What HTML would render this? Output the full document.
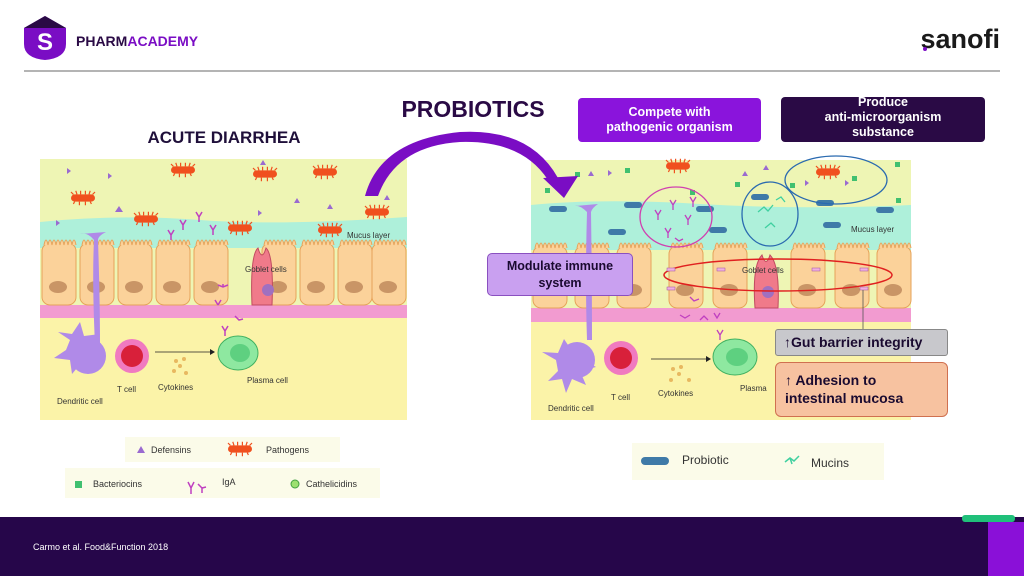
<!DOCTYPE html>
<html><head><meta charset="utf-8"><style>
body{margin:0;width:1024px;height:576px;overflow:hidden;background:#fff;font-family:"Liberation Sans",sans-serif;position:relative}
.a{position:absolute}
</style></head><body>
<svg class="a" style="left:0;top:0" width="1024" height="576" viewBox="0 0 1024 576">
<defs>
<g id="cell"><rect x="0" y="0" width="34" height="62" rx="8" fill="#fbd29a" stroke="#e6a35a" stroke-width="1"/><path d="M2 2 q2 -10 4 0 q2 -10 4 0 q2 -10 4 0 q2 -10 4 0 q2 -10 4 0 q2 -10 4 0 q2 -10 4 0 q2 -10 4 0" fill="#fbd29a" stroke="#e6a35a" stroke-width="1"/><ellipse cx="16" cy="44" rx="9" ry="6" fill="#c99566"/></g>
<g id="path0"><rect x="-10" y="-3" width="20" height="6" rx="3" fill="#f0501e"/><path d="M-10 -5 l2 2 M-6 -6 l1 3 M-2 -6 l0 3 M2 -6 l0 3 M6 -6 l-1 3 M10 -5 l-2 2 M-8 5 l1 -2 M-3 6 l0 -3 M2 6 l0 -3 M7 5 l-1 -2" stroke="#f0501e" stroke-width="1"/></g>
<g id="path"><use href="#path0" transform="scale(1.2)"/></g>
<g id="prob"><rect x="-9" y="-3" width="18" height="6" rx="3" fill="#3f7aa8"/></g>
</defs>

<!-- header -->
<path d="M24 28 L45 16 L66 28 L66 44 Q66 58 45 60 Q24 58 24 44 Z" fill="#7a0dc4"/>
<path d="M24 28 L45 16 L66 28 Z" fill="#2a0a45"/>
<text x="45" y="50" font-size="24" font-weight="bold" fill="#fff" text-anchor="middle">S</text>
<text x="76" y="46" font-size="14" font-weight="bold" fill="#2a0a45">PHARM<tspan fill="#7a0dc4">ACADEMY</tspan></text>
<text x="1000" y="48" font-size="27" font-weight="bold" fill="#1a1a1a" text-anchor="end">sanofi</text>
<circle cx="925" cy="49" r="2" fill="#7a0dc4"/>
<line x1="24" y1="71" x2="1000" y2="71" stroke="#888" stroke-width="1.2"/>

<text x="224" y="143" font-size="17" font-weight="bold" fill="#1f0f3a" text-anchor="middle">ACUTE DIARRHEA</text>
<text x="473" y="117" font-size="23" font-weight="bold" fill="#2a0a45" text-anchor="middle">PROBIOTICS</text>

<!-- LEFT diagram -->
<rect x="40" y="159" width="367" height="261" fill="#eef5b4"/>
<rect x="40" y="318" width="367" height="102" fill="#fbf3a8"/>
<path d="M40 222 Q120 214 200 220 T407 217 L407 248 L40 248 Z" fill="#aef0da"/>
<rect x="40" y="305" width="367" height="13" fill="#f29bd0"/>
<g>
<use href="#cell" x="42" y="243"/><use href="#cell" x="80" y="243"/><use href="#cell" x="118" y="243"/><use href="#cell" x="156" y="243"/><use href="#cell" x="194" y="243"/><use href="#cell" x="262" y="243"/><use href="#cell" x="300" y="243"/><use href="#cell" x="338" y="243"/><use href="#cell" x="372" y="243"/>
</g>
<path d="M252 305 Q250 255 258 248 Q262 262 266 248 Q274 255 272 305 Z" fill="#f07a8a" stroke="#c04a60"/>
<circle cx="268" cy="290" r="6" fill="#a070c0"/>
<text x="245" y="272" font-size="8" fill="#333">Goblet cells</text>
<text x="347" y="238" font-size="8" fill="#333">Mucus layer</text>
<use href="#path" x="183" y="170"/><use href="#path" x="265" y="174"/><use href="#path" x="83" y="198"/><use href="#path" x="146" y="219"/><use href="#path" x="240" y="228"/><use href="#path" x="330" y="230"/><use href="#path" x="377" y="212"/><use href="#path" x="325" y="172"/>
<g fill="#9a6ad0"><path d="M67 168 l4 3 l-4 3z"/><path d="M108 173 l4 3 l-4 3z"/><path d="M115 212 l4 -6 l4 6z"/><path d="M260 165 l3 -5 l3 5z"/><path d="M258 210 l4 3 l-4 3z"/><path d="M294 203 l3 -5 l3 5z"/><path d="M327 209 l3 -5 l3 5z"/><path d="M384 200 l3 -5 l3 5z"/><path d="M56 220 l4 3 l-4 3z"/></g>
<g stroke="#c040c0" stroke-width="1.5" fill="none"><path d="M180 220 l3 5 l3 -5 M183 225 v5"/><path d="M196 212 l3 5 l3 -5 M199 217 v5"/><path d="M210 225 l3 5 l3 -5 M213 230 v5"/><path d="M168 230 l3 5 l3 -5 M171 235 v5"/><path d="M218 285 l5 2 l5 -2 M223 287 v-3"/><path d="M215 300 l3 5 M218 305 l3 -5"/><path d="M222 326 l3 5 l3 -5 M225 331 v5"/><path d="M235 316 l4 4 l4 -1"/></g>
<!-- dendritic -->
<path d="M95 345 Q92 280 94 240 Q88 232 80 234 L106 232 Q98 236 98 240 Q100 300 100 345" fill="#b08ae8"/>
<path d="M70 340 l-12 -8 l14 2 l8 -12 l4 14 l16 -2 l-8 10 l14 10 l-16 2 l4 16 l-12 -10 l-10 12 l-2 -14 l-16 -2 l12 -8 z" fill="#b08ae8"/>
<circle cx="88" cy="356" r="18" fill="#b08ae8"/>
<circle cx="132" cy="356" r="17" fill="#f07ac0"/><circle cx="132" cy="356" r="11" fill="#d8203a"/>
<g fill="#e8b860"><circle cx="176" cy="361" r="2"/><circle cx="184" cy="359" r="2"/><circle cx="180" cy="366" r="2"/><circle cx="174" cy="371" r="2"/><circle cx="186" cy="373" r="2"/></g>
<line x1="155" y1="352" x2="210" y2="352" stroke="#222" stroke-width="0.8"/><path d="M210 349 l5 3 l-5 3z" fill="#222"/>
<ellipse cx="238" cy="353" rx="20" ry="17" fill="#8ee8a0" stroke="#40b060"/><ellipse cx="240" cy="353" rx="10" ry="9" fill="#5ed080"/>
<g font-size="8" fill="#333"><text x="117" y="392">T cell</text><text x="158" y="390">Cytokines</text><text x="247" y="383">Plasma cell</text><text x="57" y="404">Dendritic cell</text></g>
<!-- left legend -->
<rect x="125" y="437" width="215" height="25" fill="#fbfbe9"/>
<rect x="65" y="468" width="315" height="30" fill="#fbfbe9"/>
<path d="M137 453 l4 -7 l4 7z" fill="#9a6ad0"/><text x="151" y="453" font-size="9" fill="#333">Defensins</text>
<use href="#path" x="240" y="449"/><text x="266" y="453" font-size="9" fill="#333">Pathogens</text>
<rect x="75" y="481" width="7" height="7" fill="#40c070"/><text x="93" y="487" font-size="9" fill="#333">Bacteriocins</text>
<path d="M188 482 l3 6 l3 -6 M191 488 v6 M198 484 l4 4 l4 -1 M202 488 v5" stroke="#c040c0" stroke-width="1.5" fill="none"/><text x="222" y="485" font-size="9" fill="#333">IgA</text>
<circle cx="295" cy="484" r="4" fill="#9ce070" stroke="#40a040"/><text x="306" y="487" font-size="9" fill="#333">Cathelicidins</text>

<!-- RIGHT diagram -->
<rect x="531" y="160" width="380" height="260" fill="#eef5b4"/>
<rect x="531" y="322" width="380" height="98" fill="#fbf3a8"/>
<path d="M531 205 Q600 198 700 204 T911 205 L911 250 L531 250 Z" fill="#aef0da"/>
<rect x="531" y="308" width="380" height="14" fill="#f29bd0"/>
<use href="#cell" x="533" y="246"/><use href="#cell" x="575" y="246"/><use href="#cell" x="617" y="246"/><use href="#cell" x="669" y="246"/><use href="#cell" x="713" y="246"/><use href="#cell" x="791" y="246"/><use href="#cell" x="835" y="246"/><use href="#cell" x="877" y="246"/>
<path d="M755 308 Q752 265 762 255 Q766 268 770 255 Q780 265 778 308 Z" fill="#f07a8a" stroke="#c04a60"/>
<circle cx="768" cy="292" r="6" fill="#a070c0"/>
<text x="742" y="273" font-size="8" fill="#333">Goblet cells</text>
<text x="851" y="232" font-size="8" fill="#333">Mucus layer</text>
<use href="#prob" x="558" y="209"/><use href="#prob" x="633" y="205"/><use href="#prob" x="705" y="209"/><use href="#prob" x="760" y="197"/><use href="#prob" x="825" y="203"/><use href="#prob" x="885" y="210"/><use href="#prob" x="617" y="232"/><use href="#prob" x="718" y="230"/><use href="#prob" x="832" y="225"/>
<use href="#path" x="678" y="166"/><use href="#path" x="828" y="172"/>
<g fill="#40c070"><rect x="545" y="188" width="5" height="5"/><rect x="575" y="172" width="5" height="5"/><rect x="625" y="168" width="5" height="5"/><rect x="690" y="190" width="5" height="5"/><rect x="735" y="182" width="5" height="5"/><rect x="790" y="183" width="5" height="5"/><rect x="852" y="176" width="5" height="5"/><rect x="895" y="162" width="5" height="5"/><rect x="896" y="198" width="5" height="5"/></g>
<g fill="#9a6ad0"><path d="M588 176 l3 -5 l3 5z"/><path d="M608 170 l4 3 l-4 3z"/><path d="M742 176 l3 -5 l3 5z"/><path d="M763 170 l3 -5 l3 5z"/><path d="M805 180 l4 3 l-4 3z"/><path d="M845 180 l4 3 l-4 3z"/></g>
<ellipse cx="676" cy="217" rx="36" ry="30" fill="none" stroke="#d040b0" stroke-width="1.3"/>
<g stroke="#c040c0" stroke-width="1.3" fill="none"><path d="M655 210 l3 5 l3 -5 M658 215 v5"/><path d="M670 200 l3 5 l3 -5 M673 205 v5"/><path d="M685 215 l3 5 l3 -5 M688 220 v5"/><path d="M665 228 l3 5 l3 -5 M668 233 v5"/><path d="M690 197 l3 5 l3 -5 M693 202 v5"/><path d="M675 238 l4 3 l4 -2"/></g>
<ellipse cx="770" cy="214" rx="28" ry="32" fill="none" stroke="#2a6ab0" stroke-width="1.3"/>
<g stroke="#40d0a0" stroke-width="1.3" fill="none"><path d="M758 212 l6 -5 l4 4 l5 -6"/><path d="M765 228 l6 -5 l4 4"/><path d="M776 200 l5 -3 l4 5"/></g>
<ellipse cx="836" cy="180" rx="51" ry="24" fill="none" stroke="#2a6ab0" stroke-width="1.3"/>
<ellipse cx="778" cy="275" rx="114" ry="16" fill="none" stroke="#e02020" stroke-width="1.5"/>
<g fill="#f0b0e0" stroke="#a050a0" stroke-width="0.5"><rect x="667" y="268" width="8" height="3"/><rect x="717" y="268" width="8" height="3"/><rect x="812" y="268" width="8" height="3"/><rect x="860" y="268" width="8" height="3"/><rect x="667" y="287" width="8" height="3"/><rect x="860" y="287" width="8" height="3"/></g>
<line x1="863" y1="290" x2="863" y2="329" stroke="#555" stroke-width="0.8"/>
<g stroke="#c040c0" stroke-width="1.3" fill="none"><path d="M690 297 l4 4 l5 -2"/><path d="M680 315 l5 3 l5 -3"/><path d="M700 320 l4 -4 l4 4"/><path d="M717 330 l3 5 l3 -5 M720 335 v5"/><path d="M714 313 l3 5 l3 -5"/></g>
<path d="M587 340 Q585 280 587 212 Q580 205 575 206 L598 204 Q592 208 591 212 Q592 280 592 340" fill="#b08ae8"/>
<path d="M556 360 l-14 -8 l16 1 l6 -14 l8 12 l14 -6 l-4 14 l14 8 l-16 4 l6 14 l-14 -6 l-6 14 l-4 -14 l-14 2 l10 -10 z" fill="#b08ae8"/>
<circle cx="577" cy="360" r="18" fill="#b08ae8"/>
<circle cx="621" cy="358" r="17" fill="#f07ac0"/><circle cx="621" cy="358" r="11" fill="#d8203a"/>
<g fill="#e8b860"><circle cx="673" cy="369" r="2"/><circle cx="681" cy="367" r="2"/><circle cx="679" cy="374" r="2"/><circle cx="671" cy="380" r="2"/><circle cx="689" cy="380" r="2"/></g>
<line x1="651" y1="359" x2="706" y2="359" stroke="#222" stroke-width="0.8"/><path d="M706 356 l5 3 l-5 3z" fill="#222"/>
<ellipse cx="735" cy="357" rx="22" ry="18" fill="#8ee8a0" stroke="#40b060"/><ellipse cx="737" cy="357" rx="11" ry="9" fill="#5ed080"/>
<g font-size="8" fill="#333"><text x="611" y="400">T cell</text><text x="658" y="396">Cytokines</text><text x="740" y="391">Plasma</text><text x="548" y="411">Dendritic cell</text></g>
<!-- right legend -->
<rect x="632" y="443" width="252" height="37" fill="#fbfbe9"/>
<rect x="641" y="457" width="28" height="8" rx="4" fill="#3f7aa8"/><text x="682" y="464" font-size="12" fill="#333">Probiotic</text>
<path d="M785 462 l5 -4 l4 3 l5 -5 M790 458 l2 6" stroke="#40d0a0" stroke-width="1.5" fill="none"/><text x="811" y="467" font-size="12" fill="#333">Mucins</text>

<!-- big arrow -->
<path d="M365 196 Q380 140 460 132 Q530 128 558 178 L548 180 Q522 140 460 142 Q396 146 378 196 Z" fill="#7a0dc4"/>
<path d="M543 178 L578 176 L564 198 Z" fill="#7a0dc4"/>

<!-- footer -->
<rect x="0" y="517" width="1024" height="59" fill="#26064a"/>
<rect x="988" y="522" width="36" height="54" fill="#8a10d8"/>
<rect x="962" y="515" width="53" height="7" rx="3" fill="#20c07a"/>
<text x="33" y="550" font-size="9" fill="#fff">Carmo et al. Food&amp;Function 2018</text>
</svg>

<div class="a" style="left:578px;top:98px;width:183px;height:44px;background:#8a14dc;border-radius:4px;color:#fff;font-size:12.5px;font-weight:bold;text-align:center;line-height:15px;display:flex;align-items:center;justify-content:center">Compete with<br>pathogenic organism</div>
<div class="a" style="left:781px;top:97px;width:204px;height:45px;background:#2a0a45;border-radius:4px;color:#fff;font-size:12.5px;font-weight:bold;text-align:center;line-height:15px;overflow:hidden"><div style="margin-top:-2px">Produce<br>anti-microorganism<br>substance</div></div>
<div class="a" style="left:487px;top:253px;width:146px;height:43px;background:#c9a0f0;border:1px solid #8a50c0;border-radius:5px;box-sizing:border-box;color:#1a0a30;font-size:12.5px;font-weight:bold;text-align:center;line-height:17px;padding-top:4px">Modulate immune<br>system</div>
<div class="a" style="left:775px;top:329px;width:173px;height:27px;background:#c8c8cc;border:1px solid #888;border-radius:3px;box-sizing:border-box;color:#1a0a30;font-size:14px;font-weight:bold;line-height:25px;padding-left:8px">↑Gut barrier integrity</div>
<div class="a" style="left:775px;top:362px;width:173px;height:55px;background:#f7c2a0;border:1px solid #d07050;border-radius:6px;box-sizing:border-box;color:#1a0a30;font-size:14px;font-weight:bold;line-height:18px;padding:8px 0 0 9px">↑ Adhesion to<br>intestinal mucosa</div>
</body></html>
